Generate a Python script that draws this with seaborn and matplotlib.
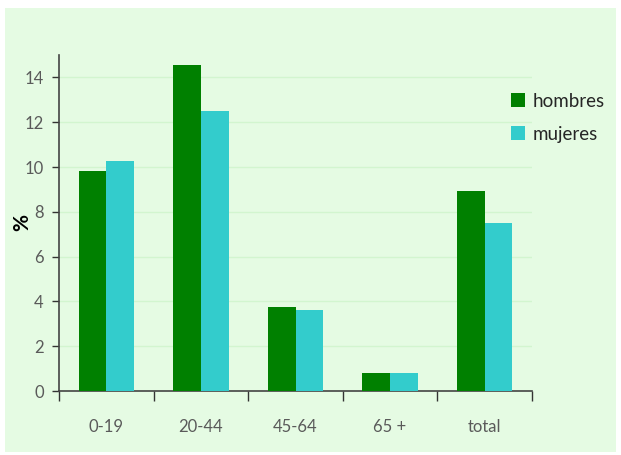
import numpy as np
import pandas as pd
import matplotlib
matplotlib.use("Agg")
import matplotlib.pyplot as plt
import seaborn as sns

categories = ["0-19", "20-44", "45-64", "65 +", "total"]
hombres = [9.8, 14.55, 3.75, 0.8, 8.92]
mujeres = [10.25, 12.48, 3.62, 0.8, 7.48]
series = ["hombres", "mujeres"]
colors = {"hombres": "#008000", "mujeres": "#33CCCC"}

df = pd.DataFrame({
    "grupo": categories * 2,
    "sexo": ["hombres"] * len(categories) + ["mujeres"] * len(categories),
    "valor": hombres + mujeres,
})

sns.set_style("white")
plt.rcParams["font.family"] = ["Lato", "DejaVu Sans"]

fig = plt.figure(figsize=(6.21, 4.55), dpi=100)
fig.patch.set_facecolor("white")
bg = plt.Rectangle((5 / 621, 3 / 455), 611 / 621, 444 / 455, transform=fig.transFigure,
                   facecolor="#e5fbe3", edgecolor="none", zorder=-10)
fig.patches.append(bg)

ax = fig.add_axes([59 / 621, 1 - 391 / 455, 473 / 621, 336 / 455])
ax.set_facecolor("none")

sns.barplot(data=df, x="grupo", y="valor", hue="sexo", order=categories,
            hue_order=series, palette=colors, width=0.585, gap=0,
            saturation=1, edgecolor="none", ax=ax, zorder=3)

ax.set_ylim(0, 15)
ax.set_xlim(-0.5, len(categories) - 0.5)
ax.set_yticks(np.arange(0, 15, 2))
ax.yaxis.grid(True, color="#d2f5cf", linewidth=1, zorder=0)
ax.set_axisbelow(True)

ax.set_xticks(np.arange(-0.5, len(categories), 1))
ax.set_xticklabels([])
ax.set_xticks(np.arange(len(categories)), minor=True)
ax.set_xticklabels(categories, minor=True)
ax.tick_params(axis="x", which="major", length=7, width=1, color="#333333", direction="out")
ax.tick_params(axis="x", which="minor", length=0, pad=20, labelsize=12, labelcolor="#5a5a5a")
ax.tick_params(axis="y", length=5, width=1, color="#333333", direction="out",
               labelsize=12, labelcolor="#5a5a5a", pad=6)
ax.tick_params(axis="both", left=True, bottom=True)

for s in ["top", "right"]:
    ax.spines[s].set_visible(False)
for s in ["left", "bottom"]:
    ax.spines[s].set_color("#444444")
    ax.spines[s].set_linewidth(1.2)

ax.set_xlabel("")
ax.set_ylabel("")
fig.text(22 / 621, 1 - 222 / 455, "%", rotation=90, fontsize=15, fontweight="bold",
         color="black", ha="center", va="center")

handles, labels = ax.get_legend_handles_labels()
ax.legend(handles, labels, loc="upper left", bbox_to_anchor=(0.94, 0.91),
          frameon=False, fontsize=13.5, handlelength=0.75, handleheight=0.75,
          handletextpad=0.4, labelspacing=0.85, borderaxespad=0)

fig.savefig("out.png", dpi=100)
